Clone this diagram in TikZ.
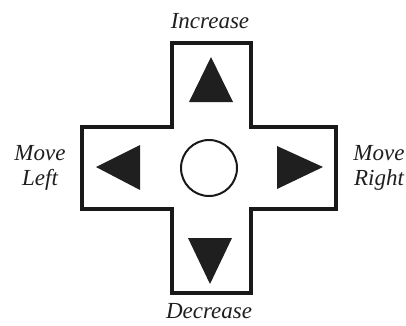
\documentclass[tikz,border=0pt]{standalone}
\usepackage{fontspec}
\setmainfont{Liberation Serif}
\begin{document}
\begin{tikzpicture}[x=1pt,y=-1pt,
  lbl/.style={font=\fontsize{23}{25}\selectfont\itshape, text=black!88, align=center, inner sep=0pt},
  outline/.style={draw=black!90, line width=4pt, line join=miter},
  tri/.style={fill=black!88, draw=none}]
\useasboundingbox (0,0) rectangle (406,325);
\fill[white] (0,0) rectangle (406,325);
% cross outline
\draw[outline] (172,43) -- (251,43) -- (251,127) -- (336,127) -- (336,209) -- (251,209)
  -- (251,293) -- (172,293) -- (172,209) -- (82,209) -- (82,127) -- (172,127) -- cycle;
% arrows
\fill[tri] (211,57) -- (233,102) -- (189,102) -- cycle;
\fill[tri] (210,284) -- (188,238) -- (232,238) -- cycle;
\fill[tri] (96,167) -- (140,145) -- (140,190) -- cycle;
\fill[tri] (323,167) -- (277,146) -- (277,189) -- cycle;
% centre button
\node[draw=black!90, line width=2pt, circle, minimum size=56pt, inner sep=0pt] (btn) at (209,168) {};
% labels
\node[lbl] (inc) at (210,21) {Increase};
\node[lbl] (dec) at (209,311) {Decrease};
\node[lbl] (left) at (40,168) {Move\\Left};
\node[lbl] (right) at (379,168) {Move\\Right};
\end{tikzpicture}
\end{document}
